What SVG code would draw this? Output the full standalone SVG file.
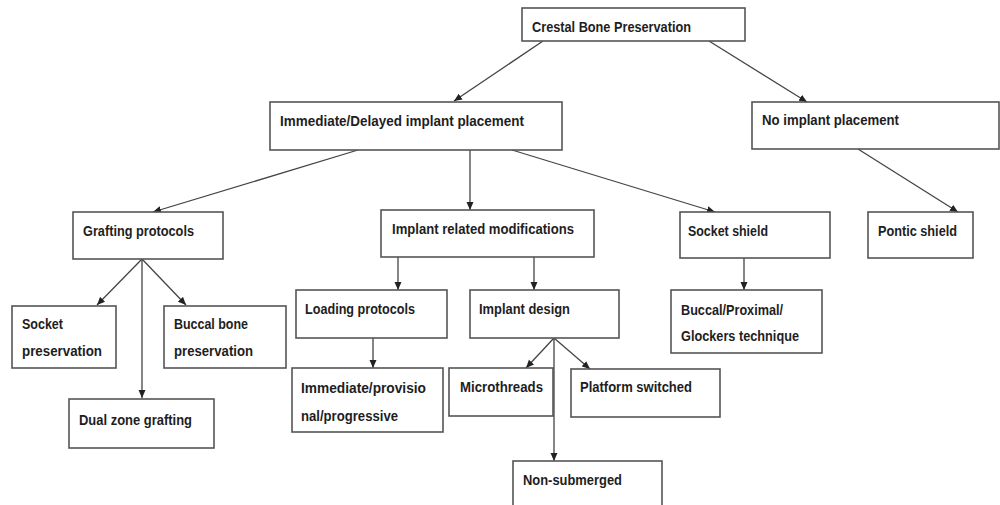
<svg xmlns="http://www.w3.org/2000/svg" width="1000" height="505" viewBox="0 0 1000 505">
<style>
.box{fill:#fff;stroke:#555;stroke-width:1.6}
.t{font-family:"Liberation Sans",Arial,sans-serif;font-weight:bold;font-size:15px;fill:#1e1e1e}
.c{stroke:#444;stroke-width:1.3;fill:none;marker-end:url(#ah)}
</style>
<defs>
<marker id="ah" markerUnits="userSpaceOnUse" markerWidth="8" markerHeight="8" refX="8" refY="4" orient="auto"><path d="M0,0.5 L8,4 L0,7.5 z" fill="#222"/></marker>
</defs>
<rect width="1000" height="505" fill="#fff"/>
<g id="connectors">
<line class="c" x1="543" y1="41" x2="454" y2="101"/>
<line class="c" x1="709" y1="41" x2="807" y2="102"/>
<line class="c" x1="858" y1="149" x2="958" y2="212"/>
<line class="c" x1="358" y1="150" x2="153" y2="212"/>
<line class="c" x1="470" y1="150" x2="470" y2="210"/>
<line class="c" x1="512" y1="150" x2="715" y2="212"/>
<line class="c" x1="142" y1="259" x2="97" y2="305"/>
<line class="c" x1="142" y1="259" x2="186" y2="305"/>
<line class="c" x1="142" y1="259" x2="142" y2="398"/>
<line class="c" x1="398" y1="257" x2="398" y2="290"/>
<line class="c" x1="534" y1="257" x2="534" y2="290"/>
<line class="c" x1="373" y1="338" x2="373" y2="368"/>
<line class="c" x1="554" y1="338" x2="526" y2="368"/>
<line class="c" x1="554" y1="338" x2="590" y2="369"/>
<line class="c" x1="554" y1="338" x2="554" y2="461"/>
<line class="c" x1="744" y1="258" x2="744" y2="290"/>
</g>
<g id="crestal"><rect class="box" x="522" y="8" width="223" height="33"/><text class="t" x="532" y="32" textLength="159" lengthAdjust="spacingAndGlyphs">Crestal Bone Preservation</text></g>
<g id="immediate-delayed"><rect class="box" x="270" y="102" width="292" height="48"/><text class="t" x="280" y="126" textLength="244" lengthAdjust="spacingAndGlyphs">Immediate/Delayed implant placement</text></g>
<g id="no-implant"><rect class="box" x="752" y="102" width="247" height="47"/><text class="t" x="762" y="125" textLength="137" lengthAdjust="spacingAndGlyphs">No implant placement</text></g>
<g id="grafting"><rect class="box" x="73" y="212" width="150" height="47"/><text class="t" x="83" y="236" textLength="111" lengthAdjust="spacingAndGlyphs">Grafting protocols</text></g>
<g id="implant-related"><rect class="box" x="381" y="210" width="213" height="47"/><text class="t" x="392" y="234" textLength="182" lengthAdjust="spacingAndGlyphs">Implant related modifications</text></g>
<g id="socket-shield"><rect class="box" x="680" y="212" width="150" height="46"/><text class="t" x="688" y="236" textLength="80" lengthAdjust="spacingAndGlyphs">Socket shield</text></g>
<g id="pontic-shield"><rect class="box" x="868" y="212" width="105" height="46"/><text class="t" x="878" y="236" textLength="79" lengthAdjust="spacingAndGlyphs">Pontic shield</text></g>
<g id="socket-preservation"><rect class="box" x="12" y="306" width="104" height="62"/><text class="t" x="22" y="329" textLength="41" lengthAdjust="spacingAndGlyphs">Socket</text><text class="t" x="22" y="356" textLength="80" lengthAdjust="spacingAndGlyphs">preservation</text></g>
<g id="buccal-bone"><rect class="box" x="164" y="306" width="122" height="62"/><text class="t" x="174" y="329" textLength="74" lengthAdjust="spacingAndGlyphs">Buccal bone</text><text class="t" x="174" y="356" textLength="79" lengthAdjust="spacingAndGlyphs">preservation</text></g>
<g id="dual-zone"><rect class="box" x="69" y="399" width="145" height="49"/><text class="t" x="79" y="425" textLength="113" lengthAdjust="spacingAndGlyphs">Dual zone grafting</text></g>
<g id="loading"><rect class="box" x="296" y="290" width="151" height="48"/><text class="t" x="305" y="314" textLength="110" lengthAdjust="spacingAndGlyphs">Loading protocols</text></g>
<g id="immediate-provisional"><rect class="box" x="292" y="368" width="151" height="64"/><text class="t" x="301" y="393" textLength="125" lengthAdjust="spacingAndGlyphs">Immediate/provisio</text><text class="t" x="301" y="421" textLength="97" lengthAdjust="spacingAndGlyphs">nal/progressive</text></g>
<g id="implant-design"><rect class="box" x="470" y="290" width="149" height="48"/><text class="t" x="479" y="314" textLength="91" lengthAdjust="spacingAndGlyphs">Implant design</text></g>
<g id="microthreads"><rect class="box" x="449" y="368" width="104" height="48"/><text class="t" x="460" y="392" textLength="83" lengthAdjust="spacingAndGlyphs">Microthreads</text></g>
<g id="platform"><rect class="box" x="571" y="369" width="149" height="48"/><text class="t" x="580" y="392" textLength="112" lengthAdjust="spacingAndGlyphs">Platform switched</text></g>
<g id="non-submerged"><rect class="box" x="513" y="461" width="149" height="50"/><text class="t" x="523" y="485" textLength="99" lengthAdjust="spacingAndGlyphs">Non-submerged</text></g>
<g id="buccal-proximal"><rect class="box" x="671" y="290" width="151" height="63"/><text class="t" x="681" y="315" textLength="102" lengthAdjust="spacingAndGlyphs">Buccal/Proximal/</text><text class="t" x="681" y="341" textLength="118" lengthAdjust="spacingAndGlyphs">Glockers technique</text></g>
</svg>
